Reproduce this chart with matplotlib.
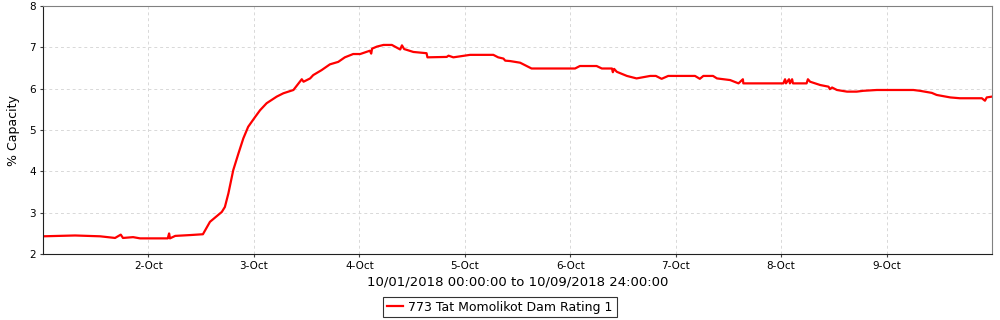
import matplotlib
matplotlib.use('Agg')
import matplotlib.pyplot as plt
import matplotlib.dates as mdates
import pandas as pd

# hours after 10/01/2018 00:00, and % capacity
hours = [0, 7.3, 13.0, 16.4, 17.7, 18.2, 20.5, 22.1, 27.8, 28.4, 28.7, 28.9, 30.1, 33.5, 36.4,
         38.0, 40.7, 41.4, 42.2, 43.3, 44.5, 45.6, 46.7, 48.3, 49.4, 50.9, 53.2, 54.7, 57.0,
         58.9, 59.3, 60.8, 61.5, 63.4, 65.3, 67.2, 68.7, 70.6, 72.2, 74.4, 74.7, 74.9,
         76.0, 77.5, 79.4, 81.3, 81.7, 82.2, 84.3,
         87.3, 87.5, 91.9, 92.3, 93.4, 97.2, 102.5, 103.6, 104.8, 105.2, 106.3, 108.6, 111.2,
         121.1, 122.2, 126.0, 127.2, 129.5, 129.7, 130.0, 130.6, 132.9, 135.1, 138.2, 139.5,
         140.8, 142.3, 148.4, 149.5, 150.3, 152.5, 153.4, 156.4, 158.3, 159.3, 159.4, 168.5,
         168.9, 169.1, 169.8, 170.0, 170.5, 170.7, 173.8, 174.1, 174.6, 176.9, 178.8, 179.1,
         179.6, 180.7, 183.0, 185.2, 186.7, 189.8, 198.1, 199.6, 202.3, 203.4, 206.5, 208.7,
         213.7, 214.4, 214.8, 216.0]
capacity = [2.43, 2.45, 2.43, 2.39, 2.47, 2.39, 2.41, 2.38, 2.38, 2.38, 2.50, 2.38, 2.44, 2.46, 2.48,
            2.78, 3.02, 3.14, 3.47, 4.03, 4.44, 4.80, 5.08, 5.32, 5.48, 5.65, 5.81, 5.89, 5.97,
            6.23, 6.17, 6.25, 6.33, 6.45, 6.59, 6.65, 6.76, 6.84, 6.84, 6.92, 6.85, 6.97,
            7.02, 7.06, 7.06, 6.95, 7.05, 6.96, 6.89,
            6.86, 6.76, 6.77, 6.80, 6.76, 6.82, 6.82, 6.76, 6.73, 6.68, 6.67, 6.63, 6.49,
            6.49, 6.55, 6.55, 6.49, 6.49, 6.40, 6.48, 6.41, 6.31, 6.25, 6.31, 6.31,
            6.24, 6.31, 6.31, 6.24, 6.31, 6.31, 6.25, 6.21, 6.13, 6.23, 6.13, 6.13,
            6.23, 6.13, 6.23, 6.13, 6.23, 6.13, 6.13, 6.23, 6.17, 6.09, 6.05, 5.99,
            6.03, 5.97, 5.93, 5.93, 5.95, 5.97, 5.97, 5.95, 5.90, 5.85, 5.79, 5.77,
            5.77, 5.71, 5.79, 5.81]

series_name = '773 Tat Momolikot Dam Rating 1'
start = pd.Timestamp('2018-10-01 00:00')
end = pd.Timestamp('2018-10-10 00:00')
times = start + pd.to_timedelta(hours, unit='h')

fig = plt.figure(figsize=(10, 3.2), dpi=100)
ax = fig.add_axes([0.043, 0.206, 0.949, 0.775])

line, = ax.plot(times, capacity, color='#ff0000', lw=1.6)

ax.set_xlim(start, end)
ax.set_ylim(2, 8)
ax.xaxis.set_major_locator(mdates.DayLocator(bymonthday=range(2, 10)))
ax.xaxis.set_major_formatter(mdates.DateFormatter('%-d-%b'))
ax.set_yticks([2, 3, 4, 5, 6, 7, 8])

ax.grid(True, color='#d8d8d8', linestyle=(0, (3, 3)), linewidth=0.7)
ax.spines['top'].set_color('#808080')
ax.spines['right'].set_color('#808080')
ax.spines['left'].set_color('#202020')
ax.spines['bottom'].set_color('#202020')
ax.tick_params(labelsize=7.5, length=2, color='#404040', pad=3)

ax.set_ylabel('% Capacity', fontsize=9, labelpad=7)
ax.set_xlabel('10/01/2018 00:00:00 to 10/09/2018 24:00:00', fontsize=9.5, labelpad=3)

leg = fig.legend([line], [series_name], loc='center', bbox_to_anchor=(0.5, 0.04),
                 fontsize=9, frameon=True, fancybox=False, handlelength=1.3,
                 borderpad=0.3, handletextpad=0.4)
leg.get_frame().set_edgecolor('black')
leg.get_frame().set_linewidth(0.8)

fig.savefig('out.png', dpi=100)
